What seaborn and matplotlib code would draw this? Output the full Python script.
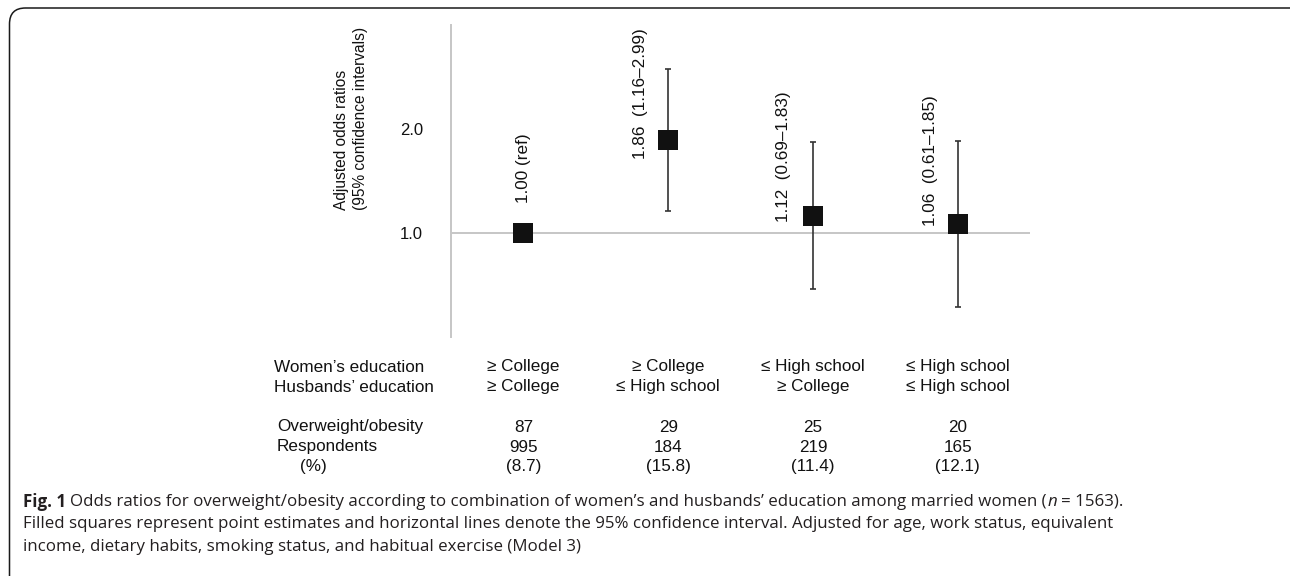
import numpy as np
import pandas as pd
import matplotlib
matplotlib.use("Agg")
import matplotlib.pyplot as plt
import seaborn as sns
import matplotlib.transforms as mtransforms
from matplotlib.patches import FancyBboxPatch
from matplotlib.ticker import FixedLocator, FixedFormatter, NullLocator

# ---------------- data ----------------
groups = ["College/College", "College/High school", "High school/College", "High school/High school"]
odds_ratios = [1.00, 1.86, 1.12, 1.06]
ci_lower = [np.nan, 1.16, 0.69, 0.61]
ci_upper = [np.nan, 2.99, 1.83, 1.85]
or_labels = ["1.00 (ref)", "1.86  (1.16\u20132.99)", "1.12  (0.69\u20131.83)", "1.06  (0.61\u20131.85)"]
womens_edu = ["\u2265 College", "\u2265 College", "\u2264 High school", "\u2264 High school"]
husbands_edu = ["\u2265 College", "\u2264 High school", "\u2265 College", "\u2264 High school"]
overweight_n = [87, 29, 25, 20]
respondents_n = [995, 184, 219, 165]
percent = [8.7, 15.8, 11.4, 12.1]
y_ticks = [1, 2, 3, 4]
y_ticklabels = ["1.0", "2.0", "", ""]
row_labels = ["Women\u2019s education", "Husbands\u2019 education", "Overweight/obesity", "Respondents", "(%)"]

# ---------------- style ----------------
sns.set_style("white")
plt.rcParams["font.family"] = ["Liberation Sans", "DejaVu Sans"]
FS = 12.3
W, H = 1290, 576
TXT = "#111111"

fig = plt.figure(figsize=(W / 100, H / 100), dpi=100)
ax = fig.add_axes([451 / W, 1 - 337 / H, (1030 - 451) / W, (337 - 25) / H])

df = pd.DataFrame({"pos": np.arange(len(groups)), "group": groups, "or": odds_ratios,
                   "lo": ci_lower, "hi": ci_upper})

# error bars (95% CI)
ci = df.dropna()
ax.errorbar(ci["pos"], ci["or"], yerr=[ci["or"] - ci["lo"], ci["hi"] - ci["or"]],
            fmt="none", ecolor="#333333", elinewidth=1.2, capsize=2.3, capthick=1.2, zorder=2)

# point estimates
sns.scatterplot(data=df, x="pos", y="or", marker="s", s=205, color="#111111",
                linewidth=0, ax=ax, zorder=3, legend=False)

ax.axhline(1.0, color="#c6c6c6", lw=1.4, zorder=1)

ax.set_yscale("log")
ax.set_ylim(0.5, 4.0)
ax.set_xlim(-0.5, 3.5)
ax.yaxis.set_major_locator(FixedLocator(y_ticks))
ax.yaxis.set_major_formatter(FixedFormatter(y_ticklabels))
ax.yaxis.set_minor_locator(NullLocator())
ax.set_xticks([])
ax.set_xlabel("")
ax.tick_params(axis="y", direction="in", length=4.5, width=1.0, color="#9a9a9a",
               pad=20, labelsize=12, labelcolor=TXT)
for s in ["top", "right", "bottom"]:
    ax.spines[s].set_visible(False)
ax.spines["left"].set_color("#c6c6c6")
ax.spines["left"].set_linewidth(1.4)
ax.set_facecolor("none")

ax.set_ylabel("Adjusted odds ratios\n(95% confidence intervals)", fontsize=11.2, color=TXT,
              multialignment="left", linespacing=1.3)
ax.yaxis.set_label_coords((368 - 451) / (1030 - 451), (337 - 118) / (337 - 25))

# estimate labels (rotated)
label_offsets = [(0, 21.6), (-20.2, -13.7), (-20.9, -4.3), (-19.4, -1.4)]
for i, (txt, off) in enumerate(zip(or_labels, label_offsets)):
    ax.annotate(txt, xy=(i, odds_ratios[i]), xytext=off, textcoords="offset points",
                rotation=90, ha="center", va="bottom", fontsize=FS, color=TXT)

# table below the plot
tr = mtransforms.blended_transform_factory(ax.transData, fig.transFigure)
row_y = [367, 387, 427, 447, 467]
row_x = [274, 274, 277, 277, 300]
for lab, x, y in zip(row_labels, row_x, row_y):
    fig.text(x / W, 1 - y / H, lab, ha="left", va="center", fontsize=FS, color=TXT)
cols = [womens_edu, husbands_edu, [str(v) for v in overweight_n],
        [str(v) for v in respondents_n], [f"({v:.1f})" for v in percent]]
for vals, y in zip(cols, row_y):
    for i, v in enumerate(vals):
        ax.text(i, 1 - y / H, v, transform=tr, ha="center", va="center",
                fontsize=FS, color=TXT, clip_on=False)

# frame
frame = FancyBboxPatch((0.095, -0.3), 13.5, 5.68 + 0.3,
                       boxstyle="round,pad=0,rounding_size=0.16",
                       transform=fig.dpi_scale_trans, fill=False,
                       edgecolor="#1a1a1a", linewidth=1.1)
fig.patches.append(frame)

# caption with mixed styles
renderer = fig.canvas.get_renderer()
CFS = 12.2
CFAM = ["Open Sans", "DejaVu Sans"]
CCOL = "#231f20"


def text_width(s, **kw):
    t = fig.text(0, 0, s, fontsize=CFS, family=CFAM, **kw)
    w = t.get_window_extent(renderer).width
    t.remove()
    return w


space_w = text_width("a a") - text_width("aa")


def draw_runs(x_px, y_px, runs):
    x = x_px
    for s, kw in runs:
        nl = len(s) - len(s.lstrip(" "))
        nt = len(s) - len(s.rstrip(" "))
        core = s.strip(" ")
        x += nl * space_w
        if core:
            t = fig.text(x / W, 1 - y_px / H, core, fontsize=CFS, family=CFAM,
                         color=CCOL, ha="left", va="center", **kw)
            x += t.get_window_extent(renderer).width
        x += nt * space_w


draw_runs(23, 502, [("Fig. 1", {"fontweight": "bold"}),
                    (" Odds ratios for overweight/obesity according to combination of women\u2019s and husbands\u2019 education among married women (", {}),
                    ("n", {"fontstyle": "italic"}),
                    (" = 1563).", {})])
draw_runs(23, 524, [("Filled squares represent point estimates and horizontal lines denote the 95% confidence interval. Adjusted for age, work status, equivalent", {})])
draw_runs(23, 547, [("income, dietary habits, smoking status, and habitual exercise (Model 3)", {})])

fig.savefig("out.png", dpi=100)
